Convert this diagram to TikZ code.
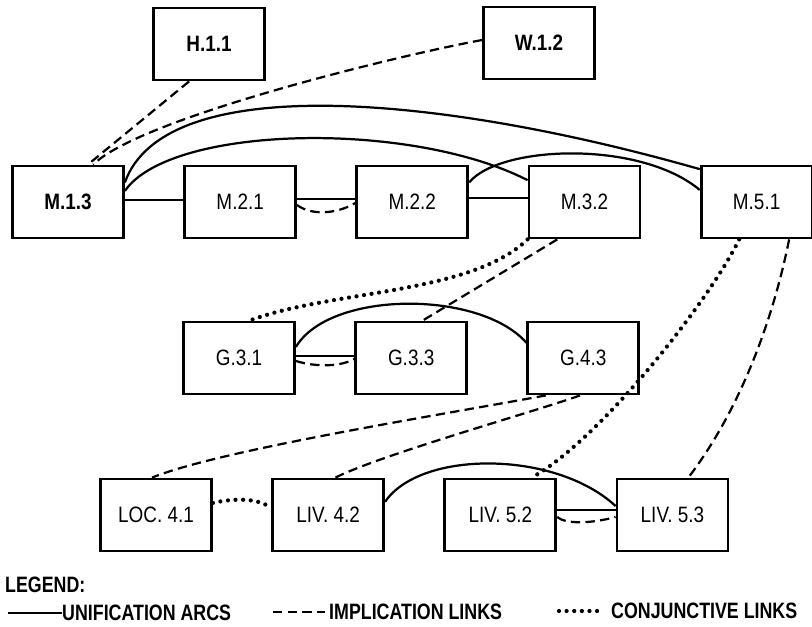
\documentclass[tikz,border=0pt]{standalone}
\usepackage{fontspec}
\newfontfamily\boxfont[FakeStretch=0.85]{Liberation Sans}
\newfontfamily\legfont[FakeStretch=0.8]{Liberation Sans}
\usetikzlibrary{positioning}

\begin{document}
\begin{tikzpicture}[
  x=0.03cm, y=-0.03cm,
  node distance=1.75cm,
  box/.style={rectangle, draw, line width=2.4pt, minimum width=3.33cm, minimum height=2.16cm,
               align=center, font=\boxfont\fontsize{19}{22}\selectfont},
  hbox/.style={box, font=\boxfont\fontsize{19}{22}\selectfont\bfseries},
  unifarc/.style={line width=1.9pt},
  impllink/.style={line width=1.9pt, dash pattern=on 8pt off 4.5pt},
  conjlink/.style={line width=3.6pt, line cap=round, dash pattern=on 0pt off 6.5pt},
  legtext/.style={font=\legfont\fontsize{19}{22}\selectfont\bfseries, inner sep=0pt}
]
  \useasboundingbox (0,0) rectangle (812,627);

  % top row
  \node[hbox] (h11) at (209,44) {H.1.1};
  \node[hbox] (w12) at (539,43) {W.1.2};

  % M row
  \node[hbox] (m13) at (68,202) {M.1.3};
  \node[box, right=of m13] (m21) {M.2.1};
  \node[box, right=of m21] (m22) {M.2.2};
  \node[box, right=of m22] (m32) {M.3.2};
  \node[box, right=of m32] (m51) {M.5.1};

  % G row
  \node[box] (g31) at (239,358) {G.3.1};
  \node[box, right=of g31] (g33) {G.3.3};
  \node[box, right=of g33] (g43) {G.4.3};

  % bottom row
  \node[box] (loc41) at (156,515) {LOC. 4.1};
  \node[box, right=of loc41] (liv42) {LIV. 4.2};
  \node[box, right=of liv42] (liv52) {LIV. 5.2};
  \node[box, right=of liv52] (liv53) {LIV. 5.3};

  % unification arcs
  \draw[unifarc] (m13.2) -- (m21.178);
  \draw[unifarc] (m21.3) -- (m22.177);
  \draw[unifarc] (m22.4) -- (m32.176);
  \draw[unifarc] (m13.19) .. controls (165,70) and (440,95) .. (m51.150);
  \draw[unifarc] (m13.11) .. controls (170,125) and (410,120) .. (m32.159);
  \draw[unifarc] (m22.19) .. controls (500,145) and (640,140) .. (m51.168);
  \draw[unifarc] (g31.2) -- (g33.178);
  \draw[unifarc] (g31.11) .. controls (330,290) and (480,290) .. (g43.165);
  \draw[unifarc] (liv42.13) .. controls (420,450) and (555,450) .. (liv53.171);
  \draw[unifarc] (liv52.5) -- (liv53.175);

  % implication links
  \draw[impllink] (h11.242) -- (m13.62);
  \draw[impllink] (w12.177) .. controls (400,55) and (140,118) .. (m13.56);
  \draw[impllink] (m21.-3) .. controls (310,215) and (335,215) .. (m22.181);
  \draw[impllink] (m32.234) -- (g33.73);
  \draw[impllink] (m51.311) .. controls (773,320) and (740,410) .. (liv53.67);
  \draw[impllink] (g31.-3) .. controls (315,367) and (340,367) .. (g33.181);
  \draw[impllink] (g43.225) .. controls (440,415) and (220,450) .. (loc41.96);
  \draw[impllink] (g43.265) .. controls (540,410) and (380,455) .. (liv42.79);
  \draw[impllink] (liv52.-2) .. controls (565,524) and (590,524) .. (liv53.182);

  % conjunctive links
  \draw[conjlink] (m32.south west) .. controls (470,295) and (330,290) .. (g31.74);
  \draw[conjlink] (m51.245) .. controls (710,300) and (600,440) .. (liv52.50);
  \draw[conjlink] (loc41.12) .. controls (235,498) and (258,498) .. (liv42.173);

  % legend
  \node[legtext, anchor=west] (leg) at (5,585) {LEGEND:};
  \coordinate (lu) at (8,613);
  \node[legtext, anchor=west] (lunif) at (62,613) {UNIFICATION ARCS};
  \draw[unifarc] (lu) -- (lunif.west);
  \coordinate (li) at (273,612);
  \node[legtext, anchor=west] (limpl) at (329,612) {IMPLICATION LINKS};
  \draw[impllink] (li) -- ([xshift=-3pt]limpl.west);
  \coordinate (lc) at (559,611);
  \node[legtext, anchor=west] (lconj) at (611,611) {CONJUNCTIVE LINKS};
  \draw[conjlink] (lc) -- ([xshift=-8pt]lconj.west);
\end{tikzpicture}
\end{document}
